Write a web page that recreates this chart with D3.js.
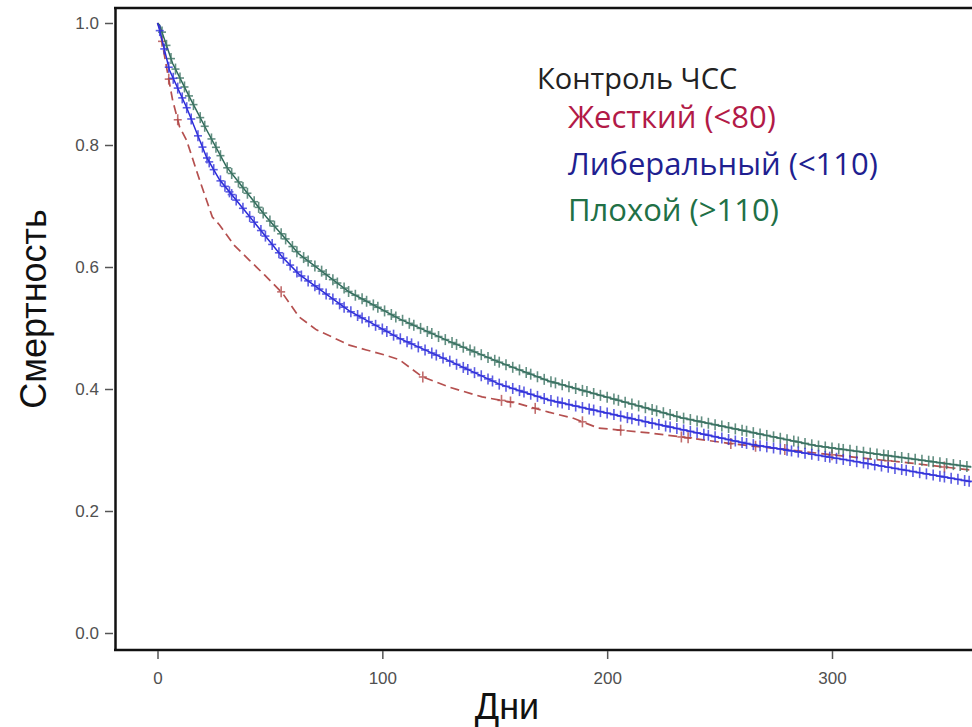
<!DOCTYPE html>
<html>
<head>
<meta charset="utf-8">
<script src="https://cdn.jsdelivr.net/npm/d3@7"></script>
<style>
  body { margin:0; background:#fff; overflow:hidden; }
  svg { display:block; }
</style>
</head>
<body>
<div id="chart"></div>
<script>
// survival curves, [day, value]
var strictDays   = [0,0.9,4,6.7,9.8,12.9,18.7,24.4,27.6,34,40.9,47.6,55.6,63,70.7,77.8,85.3,92.9,100.9,107.6,117.8,129.8,144.4,159.6,174,185,196,218.7,236,254,281,307.6,334,362];
var strictVals   = [1.0,0.993,0.928,0.874,0.83,0.808,0.743,0.682,0.669,0.636,0.611,0.587,0.557,0.518,0.497,0.485,0.472,0.464,0.456,0.448,0.42,0.403,0.387,0.377,0.362,0.352,0.336,0.328,0.32,0.311,0.3,0.289,0.279,0.267];
var liberalDays  = [0,0.9,5.3,12.9,21.8,27.6,39.6,55.6,63,85.3,107.6,129.8,152,174,218.7,263,307.6,362];
var liberalVals  = [1.0,0.989,0.923,0.862,0.78,0.743,0.689,0.616,0.588,0.528,0.483,0.446,0.408,0.382,0.345,0.31,0.283,0.248];
var poorDays     = [0,0.9,6.7,14.2,21.8,30.7,48.4,63,85.3,107.6,129.8,152,174,233,293,362];
var poorVals     = [1.0,0.997,0.934,0.879,0.825,0.764,0.682,0.621,0.559,0.515,0.478,0.444,0.413,0.353,0.307,0.272];

// censoring times (days)
var strictCensor  = [2,5,9,55,118,153,157,168,189,206,233,236,255,266,279,300,325,350];
var liberalCensor = [1,3,5,7,9,11,13,15,18,20,22,23,25,28,30,32,33,35,38,41,43,46,48,51,54,56,59,62,64,67,70,72,75,78,81,83,86,89,91,94,97,100,102,105,108,111,113,116,119,122,124,127,130,133,136,138,141,144,147,149,152,155,158,161,163,166,169,172,175,178,180,183,186,189,192,194,197,200,203,206,209,211,214,217,220,223,226,228,231,234,237,240,243,245,248,251,254,257,260,262,265,268,271,274,277,280,282,285,288,291,294,297,299,302,305,308,311,314,316,319,322,325,328,331,333,336,339,342,345,348,350,353,356,359,361];
var poorCensor    = [2,4,6,8,10,12,14,16,19,21,24,26,28,31,33,36,38,40,43,45,47,50,52,55,57,60,62,65,67,70,73,75,78,80,83,85,88,91,93,96,98,101,104,106,109,112,114,117,120,122,125,128,131,133,136,139,141,144,147,150,152,155,158,161,164,166,169,172,175,177,180,183,186,189,191,194,197,200,203,205,208,211,214,217,220,222,225,228,231,234,237,240,242,245,248,251,254,257,260,262,265,268,271,274,277,280,283,285,288,291,294,297,300,303,305,308,311,314,317,320,323,325,328,331,334,337,340,343,345,348,351,354,357,360];

var yTicks = [0,0.2,0.4,0.6,0.8,1.0];
var xTicks = [0,100,200,300];

var legendTitle = "Контроль ЧСС";
var groupNames  = ["Жесткий (<80)","Либеральный (<110)","Плохой (>110)"];

var W = 972, H = 727;
var svg = d3.select("#chart").append("svg").attr("width",W).attr("height",H);

var x = d3.scaleLinear().domain([0,300]).range([157.5,832]);
var y = d3.scaleLinear().domain([0,1]).range([633,23]);

var series = [
  {days:strictDays,  vals:strictVals,  cens:strictCensor,  color:"#b5504f", dash:"9,5", width:1.7, mark:"#b34a4a"},
  {days:liberalDays, vals:liberalVals, cens:liberalCensor, color:"#2b2bd9", dash:null,  width:1.5, mark:"#3434dc"},
  {days:poorDays,    vals:poorVals,    cens:poorCensor,    color:"#2f6a5a", dash:null,  width:1.5, mark:"#3d7464"}
];

var plot = svg.append("g");
svg.append("clipPath").attr("id","clip").append("rect")
  .attr("x",116).attr("y",9).attr("width",W-116).attr("height",640);
plot.attr("clip-path","url(#clip)");

var line = d3.line()
  .x(function(d){ return x(d[0]); })
  .y(function(d){ return y(d[1]); });

// value of the curve at a given day
function valueAt(s, t){
  var i = d3.bisectRight(s.days, t);
  if (i <= 0) return s.vals[0];
  if (i >= s.days.length) return s.vals[s.vals.length-1];
  var t0 = s.days[i-1], t1 = s.days[i];
  var v0 = s.vals[i-1], v1 = s.vals[i];
  return v0 + (v1-v0)*(t-t0)/(t1-t0);
}

var order = [0,2,1];
order.forEach(function(k){
  var s = series[k];
  var pts = s.days.map(function(d,i){ return [d, s.vals[i]]; });
  plot.append("path")
    .attr("d", line(pts))
    .style("fill","none")
    .style("stroke", s.color)
    .style("stroke-width", s.width)
    .style("stroke-dasharray", s.dash);

  var g = plot.append("g")
    .style("stroke", s.mark)
    .style("stroke-width", 1.6)
    .style("opacity", 0.8);
  s.cens.forEach(function(t){
    var cx = x(t), cy = y(valueAt(s,t));
    g.append("line").attr("x1",cx-4).attr("x2",cx+4).attr("y1",cy).attr("y2",cy);
    g.append("line").attr("x1",cx).attr("x2",cx).attr("y1",cy-5.5).attr("y2",cy+5.5);
  });
});

// frame
svg.append("line").attr("x1",114).attr("x2",W).attr("y1",8).attr("y2",8)
  .style("stroke","#111").style("stroke-width",2.5);
svg.append("line").attr("x1",115.5).attr("x2",115.5).attr("y1",7).attr("y2",651)
  .style("stroke","#111").style("stroke-width",2.5);
svg.append("line").attr("x1",114).attr("x2",W).attr("y1",650).attr("y2",650)
  .style("stroke","#111").style("stroke-width",2.5);

// y axis
var yAxis = d3.axisLeft(y).tickValues(yTicks).tickSize(8).tickPadding(6)
  .tickFormat(d3.format(".1f"));
var ya = svg.append("g").attr("transform","translate(113,0)").call(yAxis);
ya.select(".domain").remove();
ya.selectAll(".tick line").style("stroke","#555").style("stroke-width",1.5);
ya.selectAll(".tick text").style("font-family","Liberation Sans, Arial, sans-serif")
  .style("font-size","17px").style("fill","#505050");

// x axis
var xAxis = d3.axisBottom(x).tickValues(xTicks).tickSize(8).tickPadding(13);
var xa = svg.append("g").attr("transform","translate(0,651)").call(xAxis);
xa.select(".domain").remove();
xa.selectAll(".tick line").style("stroke","#555").style("stroke-width",1.5);
xa.selectAll(".tick text").style("font-family","Liberation Sans, Arial, sans-serif")
  .style("font-size","17px").style("fill","#505050");

// axis titles
svg.append("text").attr("x",507).attr("y",719).attr("text-anchor","middle")
  .style("font-family","Liberation Sans, Arial, sans-serif").style("font-size","36px").style("fill","#111")
  .text("Дни");
svg.append("text").attr("transform","translate(46,309) rotate(-90)").attr("text-anchor","middle")
  .style("font-family","Liberation Sans, Arial, sans-serif").style("font-size","36px").style("fill","#111")
  .text("Смертность");

// legend
var legendColors = ["#b21a47","#1f1f90","#217046"];
svg.append("text").attr("x",537).attr("y",89)
  .style("font-family","Open Sans, sans-serif").style("font-size","29px").style("fill","#222")
  .text(legendTitle);
groupNames.forEach(function(n,i){
  svg.append("text").attr("x",568).attr("y",[128,175,221][i])
    .style("font-family","Open Sans, sans-serif").style("font-size","31px").style("fill",legendColors[i])
    .text(n);
});
</script>
</body>
</html>
